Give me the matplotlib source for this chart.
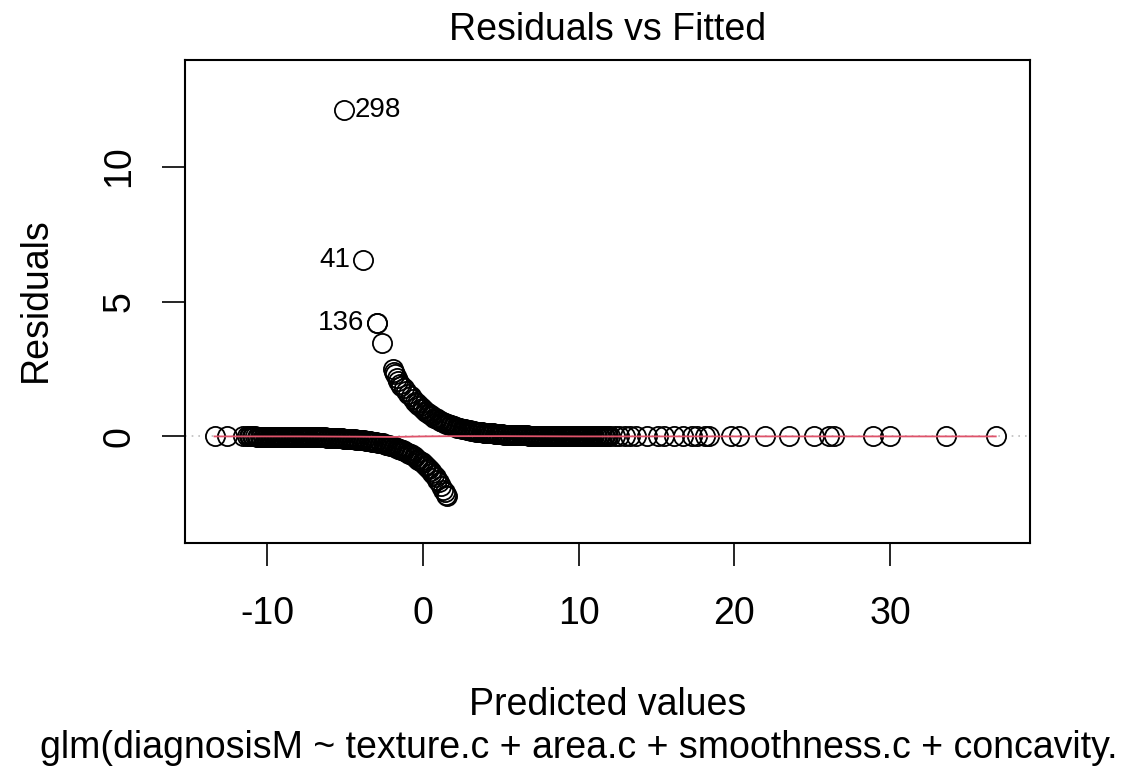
import matplotlib
matplotlib.use("Agg")
import matplotlib.pyplot as plt

# Residuals vs Fitted for the logistic glm.
# y = 0 cases (lower branch): fitted value and Pearson residual
lower_x = [-13.4, -12.6, -11.6,
           -11.3, -11.2, -11.1, -11.0, -10.9, -10.8, -10.7, -10.6, -10.5, -10.4,
           -10.3, -10.2, -10.1, -10.0, -9.9, -9.8, -9.7, -9.6, -9.5, -9.4,
           -9.3, -9.2, -9.1, -9.0, -8.9, -8.8, -8.7, -8.6, -8.5, -8.4,
           -8.3, -8.2, -8.1, -8.0, -7.9, -7.8, -7.7, -7.6, -7.5, -7.4,
           -7.3, -7.2, -7.1, -7.0, -6.9, -6.8, -6.7, -6.6, -6.5, -6.4,
           -6.3, -6.2, -6.1, -6.0, -5.9, -5.8, -5.7, -5.6, -5.5, -5.4,
           -5.3, -5.2, -5.1, -5.0, -4.9, -4.8, -4.7, -4.6, -4.5, -4.4,
           -4.3, -4.2, -4.1, -4.0, -3.9, -3.8, -3.7, -3.6, -3.5, -3.4,
           -3.3, -3.2, -3.1, -3.0, -2.9, -2.8, -2.7, -2.6, -2.5, -2.4,
           -2.3, -2.2, -2.1, -2.0, -1.9, -1.8, -1.7, -1.6, -1.5, -1.4,
           -1.3, -1.2, -1.1, -1.0, -0.9, -0.8, -0.7, -0.6, -0.5, -0.4,
           -0.3, -0.2, -0.1, 0.0, 0.1, 0.2, 0.3, 0.4, 0.5, 0.6,
           0.7, 0.8, 0.9, 1.0, 1.15, 1.3, 1.4, 1.5, 1.55]
lower_y = [-0.00, -0.00, -0.00,
           -0.00, -0.00, -0.00, -0.00, -0.00, -0.00, -0.01, -0.01, -0.01, -0.01,
           -0.01, -0.01, -0.01, -0.01, -0.01, -0.01, -0.01, -0.01, -0.01, -0.01,
           -0.01, -0.01, -0.01, -0.01, -0.01, -0.01, -0.01, -0.01, -0.01, -0.02,
           -0.02, -0.02, -0.02, -0.02, -0.02, -0.02, -0.02, -0.02, -0.02, -0.02,
           -0.03, -0.03, -0.03, -0.03, -0.03, -0.03, -0.04, -0.04, -0.04, -0.04,
           -0.04, -0.05, -0.05, -0.05, -0.05, -0.05, -0.06, -0.06, -0.06, -0.07,
           -0.07, -0.07, -0.08, -0.08, -0.08, -0.09, -0.09, -0.10, -0.10, -0.11,
           -0.12, -0.12, -0.13, -0.14, -0.14, -0.15, -0.16, -0.16, -0.17, -0.18,
           -0.19, -0.20, -0.21, -0.22, -0.23, -0.24, -0.25, -0.26, -0.27, -0.30,
           -0.32, -0.33, -0.35, -0.37, -0.39, -0.41, -0.43, -0.45, -0.47, -0.50,
           -0.52, -0.55, -0.58, -0.61, -0.64, -0.67, -0.70, -0.74, -0.78, -0.82,
           -0.86, -0.90, -0.95, -1.00, -1.05, -1.11, -1.16, -1.22, -1.29, -1.36,
           -1.43, -1.51, -1.60, -1.70, -1.83, -1.97, -2.07, -2.17, -2.22]

# y = 1 cases (upper branch), including the three labelled outliers
upper_x = [-5.1, -3.85, -2.95, -2.93, -2.62,
           -1.95, -1.88, -1.8, -1.7, -1.6, -1.5,
           -1.4, -1.25, -1.1, -0.95, -0.8, -0.65,
           -0.5, -0.4, -0.3, -0.2, -0.1, 0.0, 0.1, 0.2, 0.3, 0.4,
           0.5, 0.6, 0.7, 0.8, 0.9, 1.0, 1.1, 1.2, 1.3, 1.4,
           1.5, 1.6, 1.7, 1.8, 1.9, 2.0, 2.1, 2.2, 2.3, 2.4,
           2.5, 2.6, 2.7, 2.8, 2.9, 3.0, 3.1, 3.2, 3.3, 3.4,
           3.5, 3.6, 3.7, 3.8, 3.9, 4.0, 4.1, 4.2, 4.3, 4.4,
           4.5, 4.6, 4.7, 4.8, 4.9, 5.0, 5.1, 5.2, 5.3, 5.4,
           5.5, 5.6, 5.7, 5.8, 5.9, 6.0, 6.1, 6.2, 6.3, 6.4,
           6.5, 6.6, 6.7, 6.8, 6.9, 7.0, 7.1, 7.2, 7.3, 7.4,
           7.5, 7.6, 7.7, 7.8, 7.9, 8.0, 8.1, 8.2, 8.3, 8.4,
           8.5, 8.6, 8.7, 8.8, 8.9, 9.0, 9.1, 9.2, 9.3, 9.4,
           9.5, 9.6, 9.7, 9.8, 9.9, 10.0, 10.1, 10.2, 10.3, 10.4,
           10.5, 10.6, 10.7, 10.8, 10.9, 11.0, 11.1, 11.2, 11.3, 11.4,
           11.5, 11.6, 11.7, 11.8, 11.9, 12.0,
           12.3, 12.6, 13.0, 13.3, 13.7, 14.4, 15.1, 15.5, 16.1, 16.7,
           17.3, 17.6, 18.1, 18.4, 19.8, 20.3, 22.0, 23.5, 25.1, 26.1,
           26.4, 28.9, 30.0, 33.6, 36.8]
upper_y = [12.1, 6.55, 4.22, 4.2, 3.45,
           2.5, 2.4, 2.3, 2.15, 2.05, 1.95,
           1.88, 1.78, 1.68, 1.58, 1.48, 1.39,
           1.28, 1.22, 1.16, 1.11, 1.05, 1.00, 0.95, 0.90, 0.86, 0.82,
           0.78, 0.74, 0.70, 0.67, 0.64, 0.61, 0.58, 0.55, 0.52, 0.50,
           0.47, 0.45, 0.43, 0.41, 0.39, 0.37, 0.35, 0.33, 0.32, 0.30,
           0.29, 0.27, 0.26, 0.25, 0.23, 0.22, 0.21, 0.20, 0.19, 0.18,
           0.17, 0.17, 0.16, 0.15, 0.14, 0.14, 0.13, 0.12, 0.12, 0.11,
           0.11, 0.10, 0.10, 0.09, 0.09, 0.08, 0.08, 0.07, 0.07, 0.07,
           0.06, 0.06, 0.06, 0.06, 0.05, 0.05, 0.05, 0.05, 0.04, 0.04,
           0.04, 0.04, 0.04, 0.03, 0.03, 0.03, 0.03, 0.03, 0.03, 0.03,
           0.03, 0.02, 0.02, 0.02, 0.02, 0.02, 0.02, 0.02, 0.02, 0.02,
           0.02, 0.02, 0.01, 0.01, 0.01, 0.01, 0.01, 0.01, 0.01, 0.01,
           0.01, 0.01, 0.01, 0.01, 0.01, 0.01, 0.01, 0.01, 0.01, 0.01,
           0.00, 0.00, 0.00, 0.00, 0.00, 0.00, 0.00, 0.00, 0.00, 0.00,
           0.00, 0.00, 0.00, 0.00, 0.00, 0.00,
           0.00, 0.00, 0.00, 0.00, 0.00, 0.00, 0.00, 0.00, 0.00, 0.00,
           0.00, 0.00, 0.00, 0.00, 0.00, 0.00, 0.00, 0.00, 0.00, 0.00,
           0.00, 0.00, 0.00, 0.00, 0.00]

# labelled observations: id, position, side of the point the label sits on
id_labels = ["298", "41", "136"]
id_x = [-5.1, -3.85, -2.95]
id_y = [12.1, 6.55, 4.22]
id_side = ["right", "left", "left"]

# lowess smoother (red line), nearly flat at zero
smooth_x = [-13.4, -8.0, -4.0, -2.0, 0.0, 2.0, 5.0, 10.0, 20.0, 36.8]
smooth_y = [0.0, 0.0, -0.01, -0.02, 0.0, 0.01, 0.01, 0.0, 0.0, 0.0]

x_ticks = [-10, 0, 10, 20, 30]
y_ticks = [0, 5, 10]

FONT = "Liberation Sans"
W, H = 1128, 774


def main():
    plt.rcParams["font.family"] = [FONT, "DejaVu Sans"]
    fig = plt.figure(figsize=(W / 100, H / 100), dpi=100)
    ax = fig.add_axes([185 / W, 1 - 543 / H, (1030 - 185) / W, (543 - 60) / H])

    # gray dotted reference line at zero
    ax.axhline(0, color="#BEBEBE", linestyle=(0, (1, 3)), linewidth=1.2, zorder=1)

    marker_kw = dict(linestyle="none", marker="o", markersize=13.8,
                     markerfacecolor="none", markeredgecolor="black",
                     markeredgewidth=1.3, zorder=2)
    ax.plot(lower_x, lower_y, **marker_kw)
    ax.plot(upper_x, upper_y, **marker_kw)

    ax.plot(smooth_x, smooth_y, color="#DF536B", linewidth=1.3, zorder=3)

    for lab, x, y, side in zip(id_labels, id_x, id_y, id_side):
        off = 8 if side == "right" else -9
        ax.annotate(lab, (x, y), xytext=(off, 0), textcoords="offset points",
                    ha="left" if side == "right" else "right", va="center",
                    fontsize=20)

    ax.set_xlim(-15.3, 39.0)
    ax.set_ylim(-3.95, 13.95)
    ax.set_xticks(x_ticks)
    ax.set_yticks(y_ticks)
    ax.set_xticklabels([str(t) for t in x_ticks], fontsize=27)
    ax.set_yticklabels([str(t) for t in y_ticks], fontsize=27, rotation=90, va="center")
    ax.tick_params(direction="out", length=16.5, width=1.2)
    ax.tick_params(axis="x", pad=22)
    ax.tick_params(axis="y", pad=18)
    for s in ax.spines.values():
        s.set_linewidth(1.5)

    fig.text(608 / W, 1 - 30 / H, "Residuals vs Fitted", ha="center", va="center", fontsize=27)
    fig.text(608 / W, 1 - 705 / H, "Predicted values", ha="center", va="center", fontsize=27)
    fig.text(36 / W, 1 - 300 / H, "Residuals", ha="center", va="center",
             rotation=90, fontsize=27)
    fig.text(40 / W, 1 - 748 / H,
             "glm(diagnosisM ~ texture.c + area.c + smoothness.c + concavity.",
             ha="left", va="center", fontsize=27)

    fig.savefig("out.png", dpi=100)
    plt.close(fig)


if __name__ == "__main__":
    main()
